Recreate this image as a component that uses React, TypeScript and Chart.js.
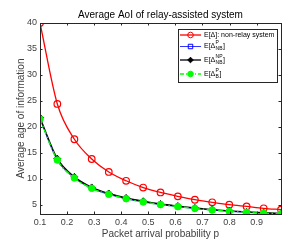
import { useEffect, useRef } from 'react';
import { Chart, registerables } from 'chart.js';

Chart.register(...registerables);

const pValues = [0.1, 0.164, 0.227, 0.291, 0.354, 0.418, 0.481, 0.545, 0.609, 0.672, 0.736, 0.799, 0.863, 0.926, 0.99];
const nonRelay = [40, 24.4, 17.6, 13.8, 11.3, 9.6, 8.3, 7.35, 6.6, 5.95, 5.45, 5.0, 4.65, 4.3, 4.05];
const preemptiveNB = [21.45, 13.55, 10.12, 8.12, 6.98, 6.12, 5.5, 5.0, 4.6, 4.25, 3.95, 3.7, 3.5, 3.35, 3.22];
const nonPreemptiveNB = [21.75, 13.85, 10.35, 8.32, 7.15, 6.28, 5.65, 5.13, 4.72, 4.36, 4.05, 3.8, 3.6, 3.44, 3.3];
const preemptiveB = [21.5, 13.6, 10.15, 8.15, 7.0, 6.15, 5.52, 5.02, 4.62, 4.27, 3.97, 3.72, 3.52, 3.37, 3.23];
const xTicks = [0.1, 0.2, 0.3, 0.4, 0.5, 0.6, 0.7, 0.8, 0.9];
const yTicks = [5, 10, 15, 20, 25, 30, 35, 40];
const titleText = 'Average AoI of relay-assisted system';
const xTitle = 'Packet arrival probability p';
const yTitle = 'Average age of information';

const FONT = '"Liberation Sans", Arial, Helvetica, sans-serif';
const AXIS = '#262626';
const LABEL = '#404040';

function drawMarker(ctx: CanvasRenderingContext2D, style: string, x: number, y: number, r: number, stroke: string, fill: string | null, lw: number) {
  ctx.save();
  ctx.setLineDash([]);
  ctx.lineWidth = lw;
  ctx.strokeStyle = stroke;
  ctx.beginPath();
  if (style === 'circle') {
    ctx.arc(x, y, r, 0, Math.PI * 2);
  } else if (style === 'rect') {
    ctx.rect(x - r * 0.8, y - r * 0.8, r * 1.6, r * 1.6);
  } else if (style === 'rectRot') {
    ctx.moveTo(x, y - r);
    ctx.lineTo(x + r, y);
    ctx.lineTo(x, y + r);
    ctx.lineTo(x - r, y);
    ctx.closePath();
  }
  if (fill) {
    ctx.fillStyle = fill;
    ctx.fill();
  }
  ctx.stroke();
  ctx.restore();
}

const decorPlugin = {
  id: 'decor',
  afterDraw(chart: any) {
    const { ctx, chartArea } = chart;
    const { left, right, top, bottom } = chartArea;
    const xs = chart.scales.x;
    const ys = chart.scales.y;
    ctx.save();
    // box
    ctx.strokeStyle = AXIS;
    ctx.lineWidth = 1;
    ctx.setLineDash([]);
    ctx.strokeRect(Math.round(left) + 0.5, Math.round(top) + 0.5, Math.round(right - left), Math.round(bottom - top));
    // inward ticks
    const tl = 2.5;
    ctx.beginPath();
    for (const v of xTicks) {
      const px = Math.round(xs.getPixelForValue(v)) + 0.5;
      ctx.moveTo(px, bottom);
      ctx.lineTo(px, bottom - tl);
      ctx.moveTo(px, top);
      ctx.lineTo(px, top + tl);
    }
    for (const v of yTicks) {
      const py = Math.round(ys.getPixelForValue(v)) + 0.5;
      ctx.moveTo(left, py);
      ctx.lineTo(left + tl, py);
      ctx.moveTo(right, py);
      ctx.lineTo(right - tl, py);
    }
    ctx.stroke();

    // title
    ctx.fillStyle = '#000';
    ctx.font = `10px ${FONT}`;
    ctx.textAlign = 'center';
    ctx.textBaseline = 'middle';
    ctx.fillText(titleText, (left + right) / 2, 15);

    // legend
    const lx = 178, ly = 29, lw = 99, lh = 53;
    ctx.fillStyle = '#fff';
    ctx.fillRect(lx, ly, lw, lh);
    ctx.strokeStyle = AXIS;
    ctx.lineWidth = 1;
    ctx.strokeRect(lx + 0.5, ly + 0.5, lw, lh);

    const rows = [
      { y: 35, color: '#ff0000', width: 1.3, dash: [] as number[], marker: 'circle', fill: null as string | null, main: 'E[Δ]: non-relay system', sup: '', sub: '' },
      { y: 46.5, color: '#0000ff', width: 0.8, dash: [], marker: 'rect', fill: null, main: 'E[Δ', sup: 'P', sub: 'NB' },
      { y: 60, color: '#000000', width: 1.3, dash: [], marker: 'rectRot', fill: '#000000', main: 'E[Δ', sup: 'NP', sub: 'NB' },
      { y: 74, color: '#00ff00', width: 1.3, dash: [4, 2, 1, 2], marker: 'circle', fill: '#00ff00', main: 'E[Δ', sup: 'P', sub: 'B' },
    ];
    for (const r of rows) {
      ctx.save();
      ctx.strokeStyle = r.color;
      ctx.lineWidth = r.width;
      ctx.setLineDash(r.dash);
      ctx.beginPath();
      ctx.moveTo(180, r.y);
      ctx.lineTo(201, r.y);
      ctx.stroke();
      ctx.restore();
      drawMarker(ctx, r.marker, 190.5, r.y, 2.8, r.color, r.fill, 1);
      ctx.fillStyle = '#000';
      ctx.textAlign = 'left';
      ctx.textBaseline = 'middle';
      ctx.font = `7px ${FONT}`;
      let tx = 204;
      ctx.fillText(r.main, tx, r.y);
      if (r.sup || r.sub) {
        tx += ctx.measureText(r.main).width;
        ctx.font = `5px ${FONT}`;
        const w1 = ctx.measureText(r.sup).width;
        const w2 = ctx.measureText(r.sub).width;
        ctx.fillText(r.sup, tx + 0.3, r.y - 3.5);
        ctx.fillText(r.sub, tx + 0.3, r.y + 2.5);
        tx += Math.max(w1, w2) + 0.8;
        ctx.font = `7px ${FONT}`;
        ctx.fillText(']', tx, r.y);
      }
    }
    ctx.restore();
  },
};

export default function App() {
  const ref = useRef<HTMLCanvasElement | null>(null);
  useEffect(() => {
    if (!ref.current) return;
    const mk = (data: number[]) => pValues.map((p, i) => ({ x: p, y: data[i] }));
    const chart = new Chart(ref.current, {
      type: 'line',
      data: {
        datasets: [
          {
            label: 'E[Δ]: non-relay system',
            data: mk(nonRelay),
            borderColor: '#ff0000',
            borderWidth: 1.3,
            pointStyle: 'circle',
            pointRadius: 3.3,
            pointBorderWidth: 1.2,
            pointBackgroundColor: 'rgba(0,0,0,0)',
            pointBorderColor: '#ff0000',
            cubicInterpolationMode: 'monotone',
            order: 4,
          },
          {
            label: 'E[Δ P NB]',
            data: mk(preemptiveNB),
            borderColor: '#0000ff',
            borderWidth: 0.8,
            pointStyle: 'rect',
            pointRadius: 3,
            pointBorderWidth: 1,
            pointBackgroundColor: 'rgba(0,0,0,0)',
            pointBorderColor: '#0000ff',
            cubicInterpolationMode: 'monotone',
            order: 3,
          },
          {
            label: 'E[Δ NP NB]',
            data: mk(nonPreemptiveNB),
            borderColor: '#000000',
            borderWidth: 1.4,
            pointStyle: 'rectRot',
            pointRadius: 3.5,
            pointBorderWidth: 1,
            pointBackgroundColor: '#000000',
            pointBorderColor: '#000000',
            cubicInterpolationMode: 'monotone',
            order: 2,
          },
          {
            label: 'E[Δ P B]',
            data: mk(preemptiveB),
            borderColor: '#00ff00',
            borderWidth: 1.4,
            borderDash: [5, 2.5, 1.5, 2.5],
            pointStyle: 'circle',
            pointRadius: 3.3,
            pointBorderWidth: 1,
            pointBackgroundColor: '#00ff00',
            pointBorderColor: '#00ff00',
            cubicInterpolationMode: 'monotone',
            order: 1,
          },
        ],
      },
      options: {
        responsive: false,
        animation: false,
        events: [],
        layout: { padding: { left: 0, top: 23, right: 23, bottom: 0 } },
        plugins: {
          legend: { display: false },
          tooltip: { enabled: false },
          title: { display: false },
        },
        scales: {
          x: {
            type: 'linear',
            min: 0.1,
            max: 0.99,
            afterBuildTicks: (s: any) => { s.ticks = xTicks.map((v) => ({ value: v })); },
            afterFit: (s: any) => { s.height = 32; },
            grid: { display: false, drawTicks: false },
            border: { display: false },
            ticks: {
              color: LABEL,
              font: { family: FONT, size: 9 },
              padding: 3,
              maxRotation: 0,
              autoSkip: false,
              callback: (v: any) => Number(v).toFixed(1),
            },
            title: {
              display: true,
              text: xTitle,
              color: LABEL,
              font: { family: FONT, size: 10 },
              padding: { top: 0, bottom: 6 },
            },
          },
          y: {
            type: 'linear',
            min: 3.2,
            max: 40,
            afterBuildTicks: (s: any) => { s.ticks = yTicks.map((v) => ({ value: v })); },
            afterFit: (s: any) => { s.width = 40; },
            grid: { display: false, drawTicks: false },
            border: { display: false },
            ticks: {
              color: LABEL,
              font: { family: FONT, size: 9 },
              padding: 3,
              autoSkip: false,
              callback: (v: any) => String(v),
            },
            title: {
              display: true,
              text: yTitle,
              color: LABEL,
              font: { family: FONT, size: 10 },
              padding: { top: 15.5, bottom: 0 },
            },
          },
        },
      },
      plugins: [decorPlugin],
    });
    return () => chart.destroy();
  }, []);
  return (
    <div style={{ position: 'fixed', left: 0, top: 0, width: 304, height: 246, background: '#fff' }}>
      <canvas ref={ref} width={304} height={246} style={{ display: 'block', width: 304, height: 246 }} />
    </div>
  );
}
